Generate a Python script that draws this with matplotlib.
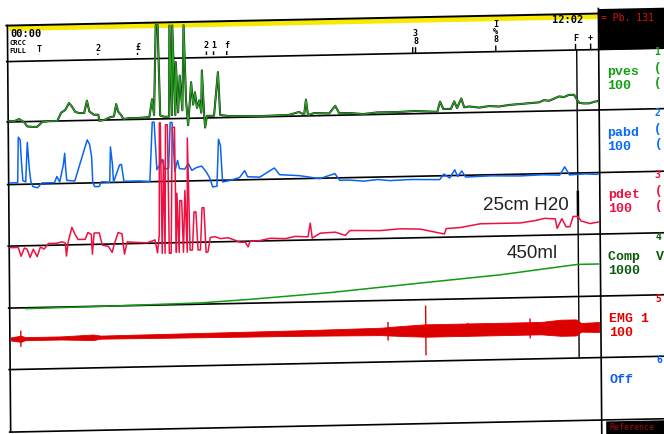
import numpy as np
import matplotlib.pyplot as plt
from matplotlib.transforms import Affine2D

# ---- channel data, time in minutes ----
pves_t = [0, 0.11, 0.21, 0.32, 0.38, 0.49, 0.59, 0.70, 0.85, 1.02, 1.10, 1.19, 1.27, 1.33,
          1.40, 1.48, 1.59, 1.65, 1.70, 1.80, 1.89, 1.91, 2.01, 2.14, 2.22, 2.27, 2.31, 2.37,
          2.42, 2.54, 2.75, 2.97, 3.03, 3.07, 3.12, 3.16, 3.20, 3.28, 3.39, 3.41, 3.45, 3.47,
          3.52, 3.54, 3.58, 3.62, 3.67, 3.71, 3.75, 3.79, 3.84, 3.86, 3.90, 3.94, 3.98, 4.03,
          4.07, 4.09, 4.13, 4.15, 4.19, 4.34, 4.43, 4.47, 4.66, 5.30, 5.93, 6.14, 6.25, 6.29,
          6.33, 6.46, 6.78, 6.91, 6.99, 7.20, 7.50, 7.80, 8.26, 8.60, 9.07, 9.13, 9.20, 9.36,
          9.43, 9.49, 9.58, 9.64, 9.75, 9.96, 10.17, 10.38, 10.59, 10.81, 11.02, 11.23, 11.33,
          11.44, 11.55, 11.65, 11.76, 11.86, 11.97, 12.03, 12.08, 12.18, 12.29, 12.39, 12.46]
pves_v = [1.5, 1, 4, -1, -7, -8, -8, -1, 0, 0, 12, 16, 26, 21,
          13, 11, 11, 29, 13, 8, 8, -1, 0, 4, 5, 23, 12, 7,
          1, 2, 2, 3, 29, 6, 138, 138, 5, 3, 3, 137, 5, 137,
          5, 83, 9, 63, 12, 137, 26, -10, 33, 53, 20, 38, 15, 26,
          8, 70, 6, -14, 3, 3, 67, 4, 2, 1, 2, 6, 2, 24,
          1, 4, 3, 14, 3, 3, 1, 3, 3, 4, 2, 17, 6, 6,
          17, 7, 21, 8, 9, 7, 9, 8, 10, 11, 12, 13, 16,
          15, 18, 21, 20, 23, 23, 16, 11, 10, 10, 12, 13]

pabd_t = [0, 0.17, 0.19, 0.23, 0.25, 0.28, 0.34, 0.38, 0.42, 0.45, 0.49, 0.59, 0.68, 0.95,
          1.00, 1.06, 1.14, 1.17, 1.19, 1.21, 1.38, 1.65, 1.70, 1.74, 1.76, 1.80, 1.89, 1.95,
          2.12, 2.14, 2.18, 2.20, 2.33, 2.37, 2.42, 2.75, 2.97, 3.03, 3.07, 3.12, 3.18, 3.24,
          3.28, 3.37, 3.41, 3.45, 3.50, 3.56, 3.60, 3.71, 3.79, 3.86, 3.96, 4.07, 4.17, 4.24,
          4.30, 4.39, 4.43, 4.47, 4.51, 4.66, 4.87, 4.98, 5.04, 5.30, 5.51, 5.61, 5.72, 6.14,
          6.57, 6.89, 6.99, 7.20, 7.50, 7.80, 8.05, 8.50, 9.11, 9.20, 9.32, 9.43, 9.49, 9.58,
          9.66, 10.20, 10.81, 11.30, 11.65, 11.76, 11.86, 12.20, 12.46]
pabd_v = [3, 3, 70, 66, 37, 6, 4, 62, 22, 4, -3, -5, 2, 2,
          11, 3, 28, 45, 21, 5, 4, 64, 57, 39, 1, -5, -5, 2,
          1, 53, 27, 1, 26, 27, 2, 2, 1, 88, 88, 18, 25, 33,
          18, 20, 87, 87, 15, 31, 19, 18, 26, 16, 20, 22, 13, 4,
          -9, -8, 61, 52, -2, 0, 4, 14, 5, 4, 13, 17, 7, 5,
          0, 7, -3, -3, -5, -3, -5, -4, -5, 3, -3, 9, -1, 7,
          -2, -1, -2, -1, -2, 10, -2, -1, -2]

pdet_t = [0, 0.17, 0.23, 0.30, 0.36, 0.42, 0.49, 0.57, 0.64, 0.72, 0.81, 0.98, 1.10, 1.17,
          1.19, 1.23, 1.31, 1.38, 1.44, 1.59, 1.65, 1.72, 1.74, 1.78, 1.89, 1.95, 2.08, 2.16,
          2.20, 2.29, 2.37, 2.42, 2.48, 2.65, 2.90, 3.07, 3.12, 3.16, 3.18, 3.20, 3.22, 3.26,
          3.28, 3.31, 3.35, 3.37, 3.41, 3.45, 3.50, 3.52, 3.54, 3.58, 3.60, 3.64, 3.67, 3.71,
          3.75, 3.77, 3.81, 3.86, 3.90, 3.94, 3.98, 4.03, 4.07, 4.11, 4.15, 4.19, 4.24, 4.34,
          4.45, 4.62, 4.77, 4.87, 4.98, 5.04, 5.08, 5.30, 5.51, 5.83, 6.04, 6.31, 6.36, 6.40,
          6.57, 6.89, 7.10, 7.20, 7.84, 8.26, 8.69, 9.20, 9.24, 9.53, 9.96, 10.38, 10.81,
          11.12, 11.33, 11.55, 11.59, 11.69, 11.78, 11.86, 11.93, 12.03, 12.10, 12.29, 12.46]
pdet_v = [-1, -1, -14, -2, -4, -16, -4, -15, -1, -4, 4, 4, 6, 4,
          -15, 6, 27, 16, 9, 9, 19, 16, -13, 18, 18, 0, -2, -11,
          0, 18, 16, -14, 4, 3, 2, 6, -13, 13, 178, 178, -14, 123,
          -14, 175, 175, -14, -14, 171, 171, -13, 74, -13, 63, 63, -13, 78,
          -13, 155, -10, -10, 46, 46, -10, -10, 52, 52, -14, -13, 8, 9,
          6, 7, 3, 0, 0, -7, 1, 2, 5, 4, 7, 6, 26, 4,
          11, 12, 7, 14, 13, 15, 14, 6, 14, 15, 20, 20, 20,
          23, 26, 25, 11, 25, 13, 13, 28, 28, 21, 17, 19]

comp_t = [0.32, 1.91, 4.03, 5.08, 6.78, 8.69, 10.38, 12.01, 12.46]
comp_v = [0, 10, 30, 65, 135, 240, 330, 450, 450]

emg_t = [0, 0.21, 0.30, 1.06, 1.74, 1.90, 4.03, 5.08, 6.14, 6.78, 7.84, 8.26, 8.79,
         9.32, 10.38, 11.23, 11.65, 11.97, 12.08, 12.46]
emg_amp = [2.5, 5, 2.5, 2.5, 4.5, 2.5, 3.5, 4, 4.5, 5, 6, 8, 10, 10, 10, 10, 13, 13, 7, 8]
emg_spike_t = [0.21, 7.99, 8.79, 9.68, 11.00]
emg_spike_amp = [13, 15, 40, 11, 16]

event_t = [0.06, 0.17, 0.28, 0.38, 0.64, 1.89, 2.73, 4.19, 4.34, 4.62, 8.56, 8.62, 10.32, 12.01, 12.33]
event_lbl = ["", "", "", "", "T", "2", "£", "2", "1", "f", "", "3\n8", "I\n%\n8", "F", "+"]

channels = ["pves", "pabd", "pdet", "Comp  V", "EMG 1", "Off"]
ranges = ["100", "100", "100", "1000", "100", ""]
ch_colors = ["#12a012", "#0a6cf5", "#ee1040", "#0c5a0c", "#e00000", "#0a5cf0"]

# ---- sheet layout (pixels of the untilted sheet) ----
W, H = 664, 434
X0, X1 = 10, 600
TOP, STRIP, BOTTOM = 19, 55, 425.5
LANES = [115.4, 178, 239.5, 301.5, 363]
T_END = 12.5
PX_CM, PX_ML, PX_UV = 0.68, 0.0733, 0.62

fig = plt.figure(figsize=(W / 100, H / 100), dpi=100)

# the scanned sheet is a little tilted
tilt = Affine2D(np.array([[1, -0.008, 0.008 * 217],
                          [0.0204, 1, -0.0204 * 332],
                          [0, 0, 1]]))

paper = fig.add_axes([0, 0, 1, 1])
paper.set_xlim(0, W)
paper.set_ylim(H, 0)
paper.axis('off')
sheet = paper.transData + tilt

paper.fill_between([X0, X1], TOP, TOP + 5, color='#f7ea00', lw=0, transform=sheet)
paper.plot([8, X1], [TOP, TOP], color='k', lw=1.4, transform=sheet)
for y in [STRIP] + LANES + [BOTTOM]:
    paper.plot([8, W + 6], [y, y], color='k', lw=1.2, transform=sheet)
paper.plot([9, 9], [TOP, BOTTOM], color='k', lw=1.2, transform=sheet)
paper.plot([X1, X1], [14, H + 6], color='k', lw=1.2, transform=sheet)
paper.plot([578, 578], [STRIP, LANES[-1]], color='k', lw=1.0, transform=sheet)
paper.plot([578, 578], [197, 221], color='k', lw=1.8, transform=sheet)

# black header / footer boxes of the channel panel
paper.fill_between([X1, W + 6], 14, STRIP, color='k', lw=0, transform=sheet)
paper.fill_between([X1 + 4, W + 6], BOTTOM + 1, H + 8, color='k', lw=0, transform=sheet)
paper.text(603, 24, "= Pb. 131", color='#e01010', fontsize=7, family='DejaVu Sans Mono',
           va='center', transform=sheet)
paper.text(608, 433, "Reference", color='#a01010', fontsize=6, family='DejaVu Sans Mono',
           va='center', transform=sheet)

# header texts of the event strip
mono = dict(family='DejaVu Sans Mono', fontweight='bold', color='k')
paper.text(12, 27, "00:00", fontsize=7.5, va='center', transform=sheet, **mono)
paper.text(11, 36, "CRCC", fontsize=5, va='center', transform=sheet, **mono)
paper.text(11, 44.5, "FULL", fontsize=5, va='center', transform=sheet, **mono)
paper.text(554, 25, "12:02", fontsize=7.5, va='center', transform=sheet, **mono)

# channel panel
tops = [STRIP] + LANES
for i, (name, rng, col) in enumerate(zip(channels, ranges, ch_colors)):
    y0 = tops[i]
    paper.text(608, y0 + 23, name, color=col, fontsize=9.5, family='Liberation Mono',
               fontweight='bold', va='center', transform=sheet)
    if rng:
        paper.text(608, y0 + 37, rng, color=col, fontsize=9.5, family='Liberation Mono',
                   fontweight='bold', va='center', transform=sheet)
    paper.text(655, y0 + 4, str(i + 1), color=col, fontsize=7, family='DejaVu Sans Mono',
               fontweight='bold', va='center', transform=sheet)
    if i < 3:
        # half-visible glyphs at the cut right edge of the sheet
        for dy in (20, 35):
            paper.text(655, y0 + dy, "(", color=col, fontsize=9, family='Liberation Mono',
                       fontweight='bold', va='center', transform=sheet)

# annotations
paper.text(569, 210, "25cm H20", fontsize=13.5, family='Liberation Sans', color='#222222',
           ha='right', va='center', transform=sheet)
paper.text(557, 258.5, "450ml", fontsize=13.5, family='Liberation Sans', color='#222222',
           ha='right', va='center', transform=sheet)


def lane(base, px_per_unit):
    ax = fig.add_axes([X0 / W, 1 - BOTTOM / H, (X1 - X0) / W, (BOTTOM - TOP) / H])
    ax.set_xlim(0, T_END)
    ax.set_ylim(-(BOTTOM - base) / px_per_unit, (base - TOP) / px_per_unit)
    ax.axis('off')
    ax.patch.set_visible(False)
    return ax, ax.transData + tilt


# event strip
ev = fig.add_axes([X0 / W, 1 - STRIP / H, (X1 - X0) / W, (STRIP - TOP) / H])
ev.set_xlim(0, T_END)
ev.set_ylim(0, 1)
ev.axis('off')
ev.patch.set_visible(False)
etr = ev.transData + tilt
ev.vlines(event_t, 0, 0.17, colors='k', lw=1).set_transform(etr)
for t, s in zip(event_t, event_lbl):
    ev.text(t, 0.2, s, ha='center', va='bottom', fontsize=6, linespacing=0.85,
            transform=etr, **mono)

ax, tr = lane(115.4, PX_CM)
ax.plot(pves_t, pves_v, color='#1a1a1a', lw=1.5, transform=tr, clip_on=False)
ax.plot(pves_t, pves_v, color='#22a81c', lw=0.9, transform=tr, clip_on=False)

ax, tr = lane(178.4, PX_CM)
ax.plot(pabd_t, pabd_v, color='#0a64f0', lw=1.1, transform=tr, clip_on=False)

ax, tr = lane(240.4, PX_CM)
ax.plot(pdet_t, pdet_v, color='#ee1040', lw=1.1, transform=tr, clip_on=False)

ax, tr = lane(302.4, PX_ML)
ax.plot(comp_t, comp_v, color='#129a12', lw=1.1, transform=tr, clip_on=False)

ax, tr = lane(332.4, PX_UV)
amp = np.array(emg_amp)
ax.fill_between(emg_t, -amp, amp, color='#dd0000', lw=0.6).set_transform(tr)
sa = np.array(emg_spike_amp)
ax.vlines(emg_spike_t, -sa, sa, colors='#dd0000', lw=1).set_transform(tr)

fig.savefig("out.png", dpi=100)
